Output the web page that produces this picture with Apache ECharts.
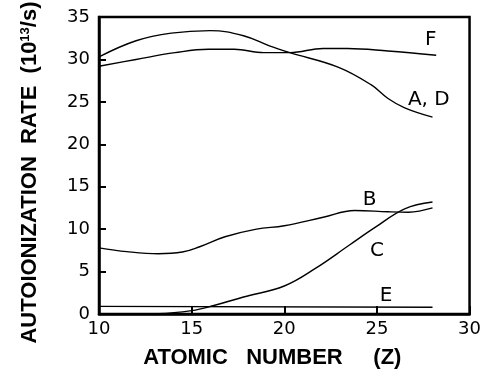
<!DOCTYPE html>
<html>
<head>
<meta charset="utf-8">
<script src="https://cdn.jsdelivr.net/npm/echarts@6/dist/echarts.min.js"></script>
<style>
html, body { margin: 0; padding: 0; background: #fff; }
#chart { width: 484px; height: 374px; }
</style>
</head>
<body>
<div id="chart"></div>
<script>
// curves, [Z, rate]
var curveAD = [[10, 30.3], [12, 32.2], [13.9, 33.1], [16, 33.4], [17.8, 32.8], [19.2, 31.6], [20.3, 30.8], [22.9, 29.1], [24.7, 27.0], [25.6, 25.4], [26.5, 24.3], [28, 23.2]];
var curveF = [[10, 29.2], [12, 30.0], [14.1, 30.8], [15.9, 31.2], [17.3, 31.2], [18.9, 30.8], [20.3, 30.8], [22.1, 31.3], [23.4, 31.3], [25.6, 31.0], [28.2, 30.5]];
var curveB = [[10, 7.8], [11.5, 7.35], [13.2, 7.1], [14.5, 7.3], [15.4, 7.9], [16.8, 9.1], [18.5, 10.0], [20, 10.4], [22.1, 11.4], [23.8, 12.2], [25.6, 12.05], [26.7, 12.0], [28, 12.5]];
var curveC = [[10, 0.0], [13.2, 0.05], [15, 0.4], [16.2, 1.0], [17.8, 2.0], [20, 3.3], [21.7, 5.4], [23.5, 8.1], [24.9, 10.2], [26.5, 12.4], [28, 13.2]];
var curveE = [[10, 0.9], [28, 0.8]];
var curveNames = ['A, D', 'F', 'B', 'C', 'E'];
// where the curve letters sit, [Z, rate]
var letterSpots = [[27.8, 25.2], [27.9, 32.3], [24.6, 13.5], [25.0, 7.4], [25.5, 2.2]];

var chart = echarts.init(document.getElementById('chart'));
var curves = [curveAD, curveF, curveB, curveC, curveE];

var series = curves.map(function (d, k) {
    return {
        name: curveNames[k],
        type: 'line',
        data: d,
        smooth: 0.4,
        symbol: 'none',
        lineStyle: { color: '#000', width: 1.4 },
        silent: true
    };
});
// curve letters (scatter is 0.8 opacity by default, so force it to 1)
series.push({
    type: 'scatter',
    symbolSize: 1,
    itemStyle: { color: 'rgba(0,0,0,0)', opacity: 1 },
    silent: true,
    data: letterSpots.map(function (p, k) { return { value: p, name: curveNames[k] }; }),
    label: {
        show: true,
        position: 'inside',
        formatter: '{b}',
        color: '#000',
        opacity: 1,
        fontFamily: 'DejaVu Sans',
        fontSize: 20
    }
});

chart.setOption({
    animation: false,
    grid: {
        left: 99, right: 8, top: 14, bottom: 57,
        show: true, borderColor: '#000', borderWidth: 2.5
    },
    xAxis: {
        type: 'value',
        min: 10, max: 30, interval: 5,
        name: 'ATOMIC   NUMBER     (Z)',
        nameLocation: 'middle',
        nameGap: 33,
        nameTextStyle: { color: '#000', fontFamily: 'Liberation Sans', fontWeight: 'bold', fontSize: 22, padding: [0, 24, 0, 0] },
        axisLine: { lineStyle: { color: '#000', width: 2.5 } },
        axisTick: { inside: true, length: 8, lineStyle: { color: '#000', width: 2 } },
        axisLabel: { color: '#000', fontFamily: 'DejaVu Sans', fontSize: 18, margin: 6 },
        splitLine: { show: false }
    },
    yAxis: {
        type: 'value',
        min: 0, max: 35, interval: 5,
        name: '{n|AUTOIONIZATION  RATE  (10}{s|13}{n|/s)}',
        nameLocation: 'middle',
        nameGap: 58,
        nameTextStyle: {
            padding: [0, 14, 0, 0],
            rich: {
                n: { color: '#000', fontFamily: 'Liberation Sans', fontWeight: 'bold', fontSize: 22 },
                s: { color: '#000', fontFamily: 'Liberation Sans', fontWeight: 'bold', fontSize: 13, verticalAlign: 'top', padding: [0, 0, 8, 0] }
            }
        },
        axisLine: { lineStyle: { color: '#000', width: 2.5 } },
        axisTick: { inside: true, length: 7, lineStyle: { color: '#000', width: 2 } },
        axisLabel: { color: '#000', fontFamily: 'DejaVu Sans', fontSize: 18, margin: 9 },
        splitLine: { show: false }
    },
    series: series
});
</script>
</body>
</html>
